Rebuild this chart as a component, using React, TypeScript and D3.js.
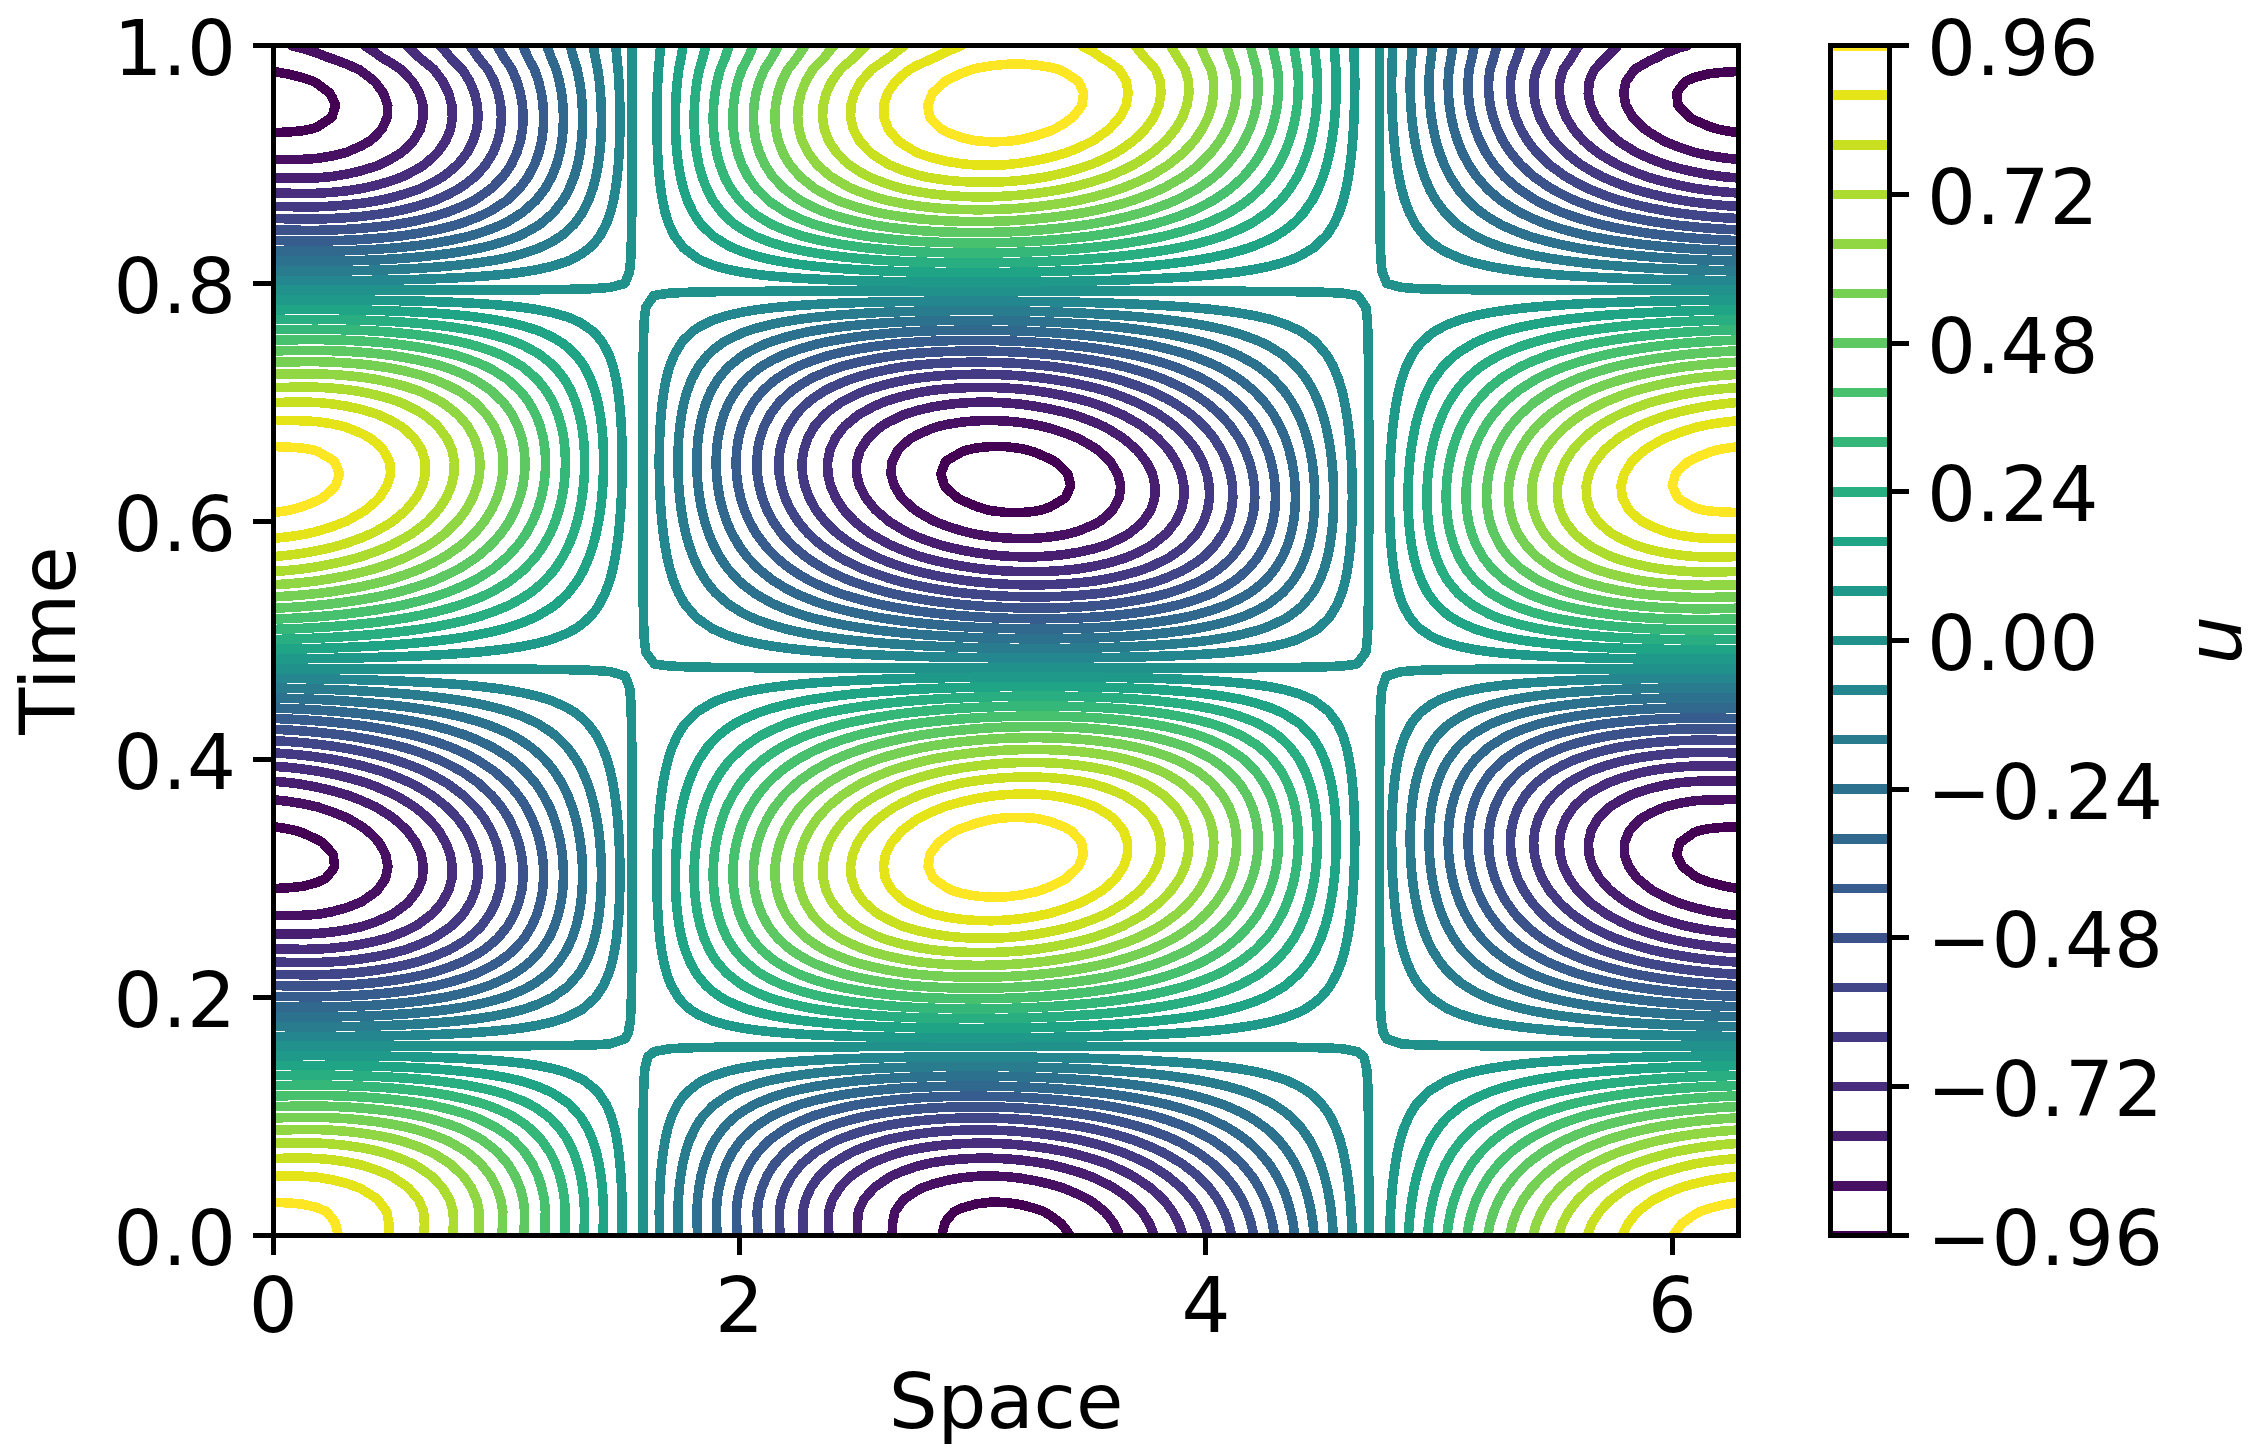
import React, { useMemo } from "react";
import * as d3 from "d3";

// Estimated from where the contours cross the picture: main standing pattern (Space step 2*pi/32, Time step 0.025)
const spaceProfile = [
  0.996, 0.977, 0.922, 0.831, 0.707, 0.556, 0.383, 0.195, 0, -0.195, -0.383, -0.556, -0.709, -0.835, -0.93, -0.987,
  -1.0065, -0.987, -0.93, -0.835, -0.709, -0.556, -0.383, -0.195, 0, 0.195, 0.383, 0.556, 0.707, 0.831, 0.922, 0.977,
  0.996,
];
const timeProfile = [
  1, 0.97, 0.88, 0.737, 0.55, 0.328, 0.087, -0.159, -0.396, -0.609, -0.785, -0.912, -0.985, -0.997, -0.949, -0.843,
  -0.686, -0.488, -0.259, -0.015, 0.231, 0.462, 0.665, 0.827, 0.94, 0.995, 0.99, 0.924, 0.802, 0.632, 0.423, 0.188,
  -0.058, -0.3, -0.526, -0.718, -0.866, -0.962, -1, -0.976, -0.894,
];
// Second pattern that tilts the closed contours and shifts the dense bands
const spaceTilt = [
  0, 0.383, 0.707, 0.924, 1, 0.924, 0.707, 0.383, 0, -0.383, -0.707, -0.924, -1, -0.924, -0.707, -0.383, 0, 0.383,
  0.707, 0.924, 1, 0.924, 0.707, 0.383, 0, -0.383, -0.707, -0.924, -1, -0.924, -0.707, -0.383, 0,
];
const timeTilt = [
  0, 0.475, 0.836, 0.996, 0.918, 0.62, 0.174, -0.315, -0.727, -0.966, -0.973, -0.747, -0.342, 0.145, 0.597, 0.906,
  0.998, 0.852, 0.5, 0.029, -0.449, -0.819, -0.993, -0.929, -0.643, -0.203, 0.287, 0.707, 0.958, 0.979, 0.766, 0.37,
  -0.116, -0.573, -0.895, -1, -0.866, -0.526, -0.059, 0.422, 0.802,
];
const tiltAmount = 0.039;
// Small positive bias of the field along Space (step pi/4)
const spaceOffset = [0.002, 0.003, 0.005, 0.0075, 0.0085, 0.0075, 0.005, 0.003, 0.002];
// Sideways shift of the 0 contour's vertical runs where the time profile is negative / positive
const zeroShiftNegative = 0.03;
const zeroShiftPositive = 0.012;
const zeroBias = 0.002;
const levels = [
  -0.96, -0.88, -0.8, -0.72, -0.64, -0.56, -0.48, -0.4, -0.32, -0.24, -0.16, -0.08, 0, 0.08, 0.16, 0.24, 0.32, 0.4,
  0.48, 0.56, 0.64, 0.72, 0.8, 0.88, 0.96,
];
const colorbarTicks = [-0.96, -0.72, -0.48, -0.24, 0, 0.24, 0.48, 0.72, 0.96];
const spaceTicks = [0, 2, 4, 6];
const timeTicks = [0, 0.2, 0.4, 0.6, 0.8, 1];
const spaceMax = 6.2832;
const timeMax = 1;

const W = 2263;
const H = 1451;
const plot = { left: 273.3, right: 1738.3, top: 45.7, bottom: 1235.3 };
const bar = { left: 1830, right: 1889 };
const FONT = "'DejaVu Sans', sans-serif";
const FS = 77;
const SW = 5;
const LW = 9.6;
const NX = 101;
const NT = 101;
const PAD = 3;

function sample(arr: number[], f: number) {
  const p = Math.max(0, Math.min(arr.length - 1, f * (arr.length - 1)));
  const i = Math.min(arr.length - 2, Math.floor(p));
  const u = p - i;
  const a = arr[Math.max(0, i - 1)];
  const b = arr[i];
  const c = arr[i + 1];
  const d = arr[Math.min(arr.length - 1, i + 2)];
  return 0.5 * (2 * b + (c - a) * u + (2 * a - 5 * b + 4 * c - d) * u * u + (3 * b - a - 3 * c + d) * u * u * u);
}

export default function App() {
  const x = d3.scaleLinear().domain([0, spaceMax]).range([plot.left, plot.right]);
  const y = d3.scaleLinear().domain([0, timeMax]).range([plot.bottom, plot.top]);
  const cb = d3.scaleLinear().domain([-0.96, 0.96]).range([plot.bottom, plot.top]);
  const color = (v: number) => d3.interpolateViridis((v + 0.96) / 1.92);

  const paths = useMemo(() => {
    const w = NX + 2 * PAD;
    const h = NT + 2 * PAD;
    const values = new Array(w * h);
    const zeroValues = new Array(w * h);
    for (let j = 0; j < h; j++) {
      const fy = (j - PAD) / (NT - 1);
      const tv = sample(timeProfile, fy);
      const ttv = sample(timeTilt, fy);
      for (let i = 0; i < w; i++) {
        const fx = (i - PAD) / (NX - 1);
        const sv = sample(spaceProfile, fx);
        values[j * w + i] = sv * tv + tiltAmount * sample(spaceTilt, fx) * ttv + sample(spaceOffset, fx);
        zeroValues[j * w + i] = sv * tv + (tv < 0 ? -zeroShiftNegative * tv : zeroShiftPositive * tv) + zeroBias;
      }
    }
    const gridX = (c: number) => x(((c - 0.5 - PAD) / (NX - 1)) * spaceMax);
    const gridY = (c: number) => y(((c - 0.5 - PAD) / (NT - 1)) * timeMax);
    const gen = d3.contours().size([w, h]);
    const line = d3.line();
    return levels.map((lv) => {
      const geo = lv === 0 ? gen.contour(zeroValues, 0) : gen.contour(values, lv);
      let d = "";
      for (const poly of geo.coordinates)
        for (const ring of poly) d += line(ring.map((p) => [gridX(p[0]), gridY(p[1])] as [number, number])) + "Z";
      return { lv, d };
    });
  }, []);

  const fmt = (v: number) => (v < 0 ? "\u2212" : "") + Math.abs(v).toFixed(2);

  return (
    <svg width={W} height={H} viewBox={`0 0 ${W} ${H}`} style={{ position: "absolute", left: 0, top: 0, display: "block", background: "#fff" }} fontFamily={FONT} fontSize={FS} fill="#000">
      <defs>
        <clipPath id="plotClip">
          <rect x={plot.left} y={plot.top} width={plot.right - plot.left} height={plot.bottom - plot.top} />
        </clipPath>
        <clipPath id="barClip">
          <rect x={bar.left} y={plot.top} width={bar.right - bar.left} height={plot.bottom - plot.top} />
        </clipPath>
      </defs>
      <g clipPath="url(#plotClip)" fill="none" strokeWidth={LW} strokeLinejoin="round" shapeRendering="crispEdges">
        {paths.map((p) => (
          <path key={p.lv} d={p.d} stroke={color(p.lv)} />
        ))}
      </g>
      <g clipPath="url(#barClip)" shapeRendering="crispEdges">
        {levels.map((lv) => (
          <line key={lv} x1={bar.left} x2={bar.right} y1={cb(lv)} y2={cb(lv)} stroke={color(lv)} strokeWidth={LW} />
        ))}
      </g>
      <g stroke="#000" strokeWidth={SW} fill="none" shapeRendering="crispEdges">
        <rect x={plot.left} y={plot.top} width={plot.right - plot.left} height={plot.bottom - plot.top} />
        <rect x={bar.left} y={plot.top} width={bar.right - bar.left} height={plot.bottom - plot.top} />
        {spaceTicks.map((t) => (
          <line key={t} x1={x(t)} x2={x(t)} y1={plot.bottom} y2={plot.bottom + 20} />
        ))}
        {timeTicks.map((t) => (
          <line key={t} x1={plot.left - 20} x2={plot.left} y1={y(t)} y2={y(t)} />
        ))}
        {colorbarTicks.map((t) => (
          <line key={t} x1={bar.right} x2={bar.right + 20} y1={cb(t)} y2={cb(t)} />
        ))}
      </g>
      {spaceTicks.map((t) => (
        <text key={t} x={x(t)} y={1332} textAnchor="middle">
          {t}
        </text>
      ))}
      {timeTicks.map((t) => (
        <text key={t} x={236} y={y(t) + 29.5} textAnchor="end">
          {t.toFixed(1)}
        </text>
      ))}
      {colorbarTicks.map((t) => (
        <text key={t} x={1927} y={cb(t) + 29.5}>
          {fmt(t)}
        </text>
      ))}
      <text x={1006} y={1427.5} textAnchor="middle">
        Space
      </text>
      <text transform="translate(74.5,640.5) rotate(-90)" textAnchor="middle">
        Time
      </text>
      <text transform="translate(2241,640) rotate(-90)" textAnchor="middle" fontStyle="italic">
        u
      </text>
    </svg>
  );
}
